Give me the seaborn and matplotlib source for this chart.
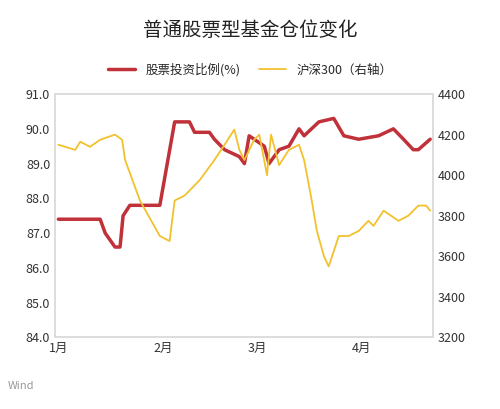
import matplotlib
matplotlib.use('Agg')
import matplotlib.pyplot as plt
import seaborn as sns
import pandas as pd

sns.set_theme(style='white')
plt.rcParams['font.family'] = ['Noto Sans CJK SC', 'DejaVu Sans']

# stock position (left axis), x = days since Jan 1
red_x = [0, 12.4, 13.9, 16.8, 18.3, 19.2, 21.2, 30.1, 34.5, 38.9, 40.4, 44.8, 46.3, 49.3,
         53.7, 55.2, 56.6, 59.6, 61.1, 62.5, 65.5, 68.4, 71.4, 72.9, 77.3, 81.7, 84.7,
         89.1, 95, 99.4, 102.4, 105.3, 106.8, 110.3]
red_y = [87.4, 87.4, 87.0, 86.6, 86.6, 87.5, 87.8, 87.8, 90.2, 90.2, 89.9, 89.9, 89.7, 89.4,
         89.2, 89.0, 89.8, 89.6, 89.5, 89.0, 89.4, 89.5, 90.0, 89.8, 90.2, 90.3, 89.8,
         89.7, 89.8, 90.0, 89.7, 89.4, 89.4, 89.7]

# CSI 300 (right axis)
hs_x = [0, 5, 6.5, 9.4, 12.4, 16.8, 18.9, 19.8, 24.2, 30.1, 33, 34.5, 37.5, 41.9, 46.3,
        49.3, 52.2, 53.7, 55.2, 58.1, 59.6, 61.9, 63.1, 65.5, 68.4, 71.4, 72.9, 74.9,
        76.7, 78.8, 80.2, 81.7, 83.2, 86.1, 89.1, 92, 93.5, 96.5, 100.9, 103.8, 106.8,
        109.1, 110.3]
hs_y = [4150, 4125, 4165, 4140, 4175, 4200, 4175, 4075, 3875, 3700, 3675, 3875, 3900,
        3975, 4075, 4150, 4225, 4125, 4075, 4175, 4200, 4000, 4200, 4050, 4125, 4150,
        4075, 3900, 3725, 3600, 3550, 3625, 3700, 3700, 3725, 3775, 3750, 3825, 3775,
        3800, 3850, 3850, 3825]

month_pos = [0, 31, 59, 90]
month_labels = ['1月', '2月', '3月', '4月']

red = '#C0313A'
yellow = '#F2C12E'

fig, ax = plt.subplots(figsize=(5, 4.09), dpi=100)
fig.subplots_adjust(left=0.11, right=0.865, top=0.77, bottom=0.175)
ax2 = ax.twinx()

sns.lineplot(x=red_x, y=red_y, ax=ax, color=red, linewidth=2.5, label='股票投资比例(%)', legend=False)
sns.lineplot(x=hs_x, y=hs_y, ax=ax2, color=yellow, linewidth=1.3, label='沪深300（右轴）', legend=False)

ax.set_ylim(84, 91)
ax.set_yticks([84, 85, 86, 87, 88, 89, 90, 91])
ax.set_yticklabels([f'{v:.1f}' for v in [84, 85, 86, 87, 88, 89, 90, 91]])
ax2.set_ylim(3200, 4400)
ax2.set_yticks(range(3200, 4401, 200))
ax.set_xlim(-1, 111)
ax.set_xticks(month_pos)
ax.set_xticklabels(month_labels)
for a in (ax, ax2):
    a.tick_params(labelsize=9, colors='#333333', length=0)
    for s in a.spines.values():
        s.set_color('#dddddd')

h1, l1 = ax.get_legend_handles_labels()
h2, l2 = ax2.get_legend_handles_labels()
fig.legend(h1 + h2, l1 + l2, loc='center', bbox_to_anchor=(0.5, 0.83), ncol=2,
           frameon=False, fontsize=9, handlelength=2.2, columnspacing=1.5)
fig.suptitle('普通股票型基金仓位变化', y=0.95, fontsize=14, color='#222222')
fig.text(0.015, 0.05, 'Wind', fontsize=8, color='#999999')

plt.savefig('out.png', dpi=100)
